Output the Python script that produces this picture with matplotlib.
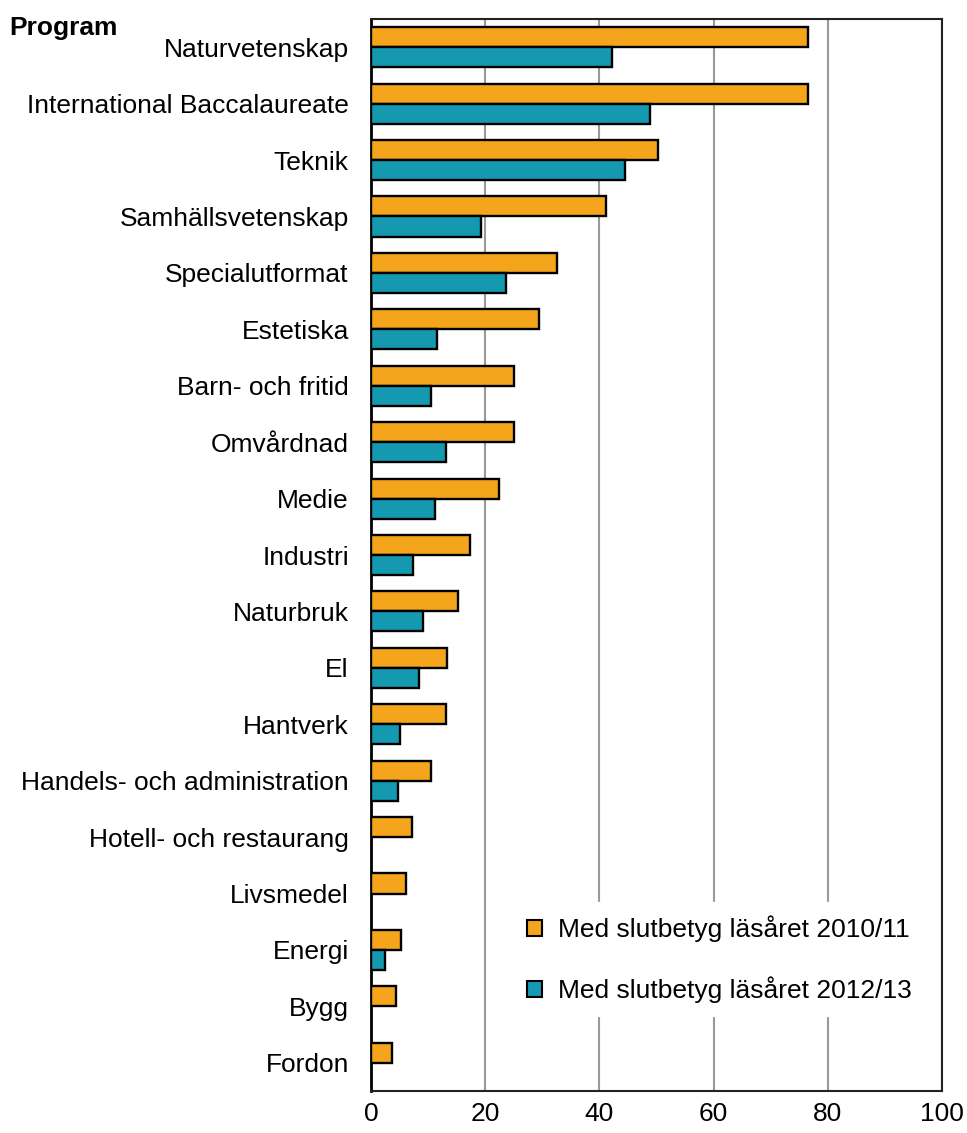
import matplotlib.pyplot as plt
import numpy as np
from matplotlib.patches import Patch

plt.rcParams['font.family'] = ['Liberation Sans', 'DejaVu Sans']

programs = ['Naturvetenskap', 'International Baccalaureate', 'Teknik', 'Samhällsvetenskap',
            'Specialutformat', 'Estetiska', 'Barn- och fritid', 'Omvårdnad', 'Medie',
            'Industri', 'Naturbruk', 'El', 'Hantverk', 'Handels- och administration',
            'Hotell- och restaurang', 'Livsmedel', 'Energi', 'Bygg', 'Fordon']
vals_2010 = [76.5, 76.5, 50.3, 41.2, 32.6, 29.4, 25.0, 25.0, 22.4, 17.3,
             15.2, 13.3, 13.1, 10.5, 7.2, 6.1, 5.3, 4.4, 3.7]
vals_2012 = [42.2, 48.9, 44.5, 19.3, 23.6, 11.6, 10.5, 13.1, 11.2, 7.4,
             9.1, 8.4, 5.1, 4.7, 0, 0, 2.5, 0, 0]
labels = ['Med slutbetyg läsåret 2010/11', 'Med slutbetyg läsåret 2012/13']
orange = '#F4A51C'
teal = '#1499B1'

fig = plt.figure(figsize=(9.67, 11.33), dpi=100)
ax = fig.add_axes([0.3837, 0.0371, 0.5904, 0.9461])

y = np.arange(len(programs))
h = 0.355
for i in range(len(programs)):
    ax.barh(y[i] - h / 2, vals_2010[i], height=h, color=orange, edgecolor='black', lw=1.7, zorder=3)
    if vals_2012[i] > 0:
        ax.barh(y[i] + h / 2, vals_2012[i], height=h, color=teal, edgecolor='black', lw=1.7, zorder=3)

ax.set_ylim(len(programs) - 0.5, -0.5)
ax.set_xlim(0, 100)
ax.set_yticks(y)
ax.set_yticklabels(programs, fontsize=19)
ax.set_xticks([0, 20, 40, 60, 80, 100])
ax.tick_params(axis='x', labelsize=19, length=0, pad=8)
ax.tick_params(axis='y', length=0, pad=16)
ax.xaxis.grid(True, color='#999999', lw=1.5, zorder=0)
for s in ax.spines.values():
    s.set_linewidth(1.5)
    s.set_color('#222222')
ax.spines['left'].set_linewidth(2)
ax.spines['left'].set_color('black')

handles = [Patch(facecolor=orange, edgecolor='black', lw=1.5),
           Patch(facecolor=teal, edgecolor='black', lw=1.5)]
leg = ax.legend(handles, labels, loc='upper left', bbox_to_anchor=(0.25, 0.176),
                frameon=True, fontsize=19, handlelength=0.57, handleheight=0.57,
                handletextpad=0.6, labelspacing=1.3, borderpad=0.5, borderaxespad=0)
leg.get_frame().set_edgecolor('white')
leg.get_frame().set_facecolor('white')
leg.get_frame().set_alpha(1)
leg.get_frame().set_boxstyle('square', pad=0)
leg.set_zorder(5)

fig.text(0.01, 0.975, 'Program', fontsize=19, fontweight='bold', va='center', ha='left')

fig.savefig('out.png', dpi=100)
